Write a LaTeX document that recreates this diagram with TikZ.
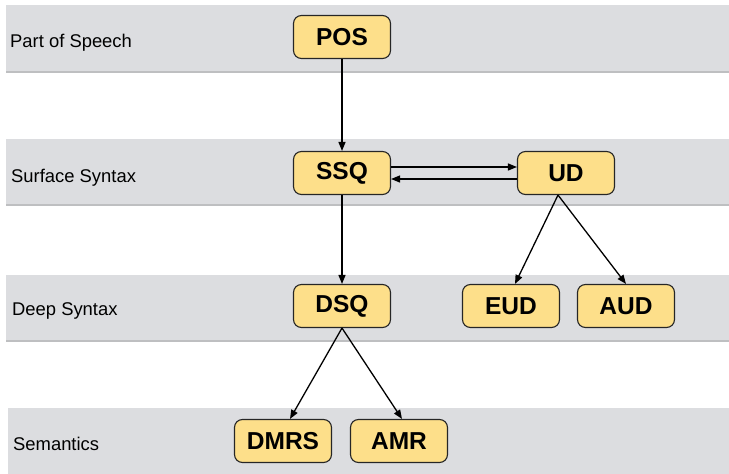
\documentclass[tikz,border=0pt]{standalone}
\usepackage{fontspec}
\setmainfont{Liberation Sans}
\usetikzlibrary{arrows.meta}

\definecolor{bandgray}{RGB}{220,221,224}
\definecolor{bandedge}{RGB}{190,191,193}
\definecolor{boxyellow}{RGB}{253,223,138}

\tikzset{
  level/.style={fill=bandgray},
  levelline/.style={draw=bandedge,line width=2pt},
  tag/.style={anchor=base west,inner sep=0pt,font=\fontsize{18.4}{20}\selectfont},
  box/.style={draw=black!85,line width=1.1pt,fill=boxyellow,rounded corners=8pt,
    minimum width=97pt,minimum height=43pt,inner sep=0pt,
    font=\fontsize{24.5}{26}\selectfont\bfseries},
  link/.style={-{Triangle[length=9pt,width=7pt]},line width=1.3pt},
}

\begin{document}
\begin{tikzpicture}[x=1pt,y=-1pt]
\useasboundingbox (0,0) rectangle (729,474);

% levels
\fill[level] (6,5) rectangle (729,71);
\draw[levelline] (6,72) -- (729,72);
\fill[level] (6,139) rectangle (729,204);
\draw[levelline] (6,205) -- (729,205);
\fill[level] (6,275) rectangle (729,340);
\draw[levelline] (6,341) -- (729,341);
\fill[level] (8,408) rectangle (729,474);

\node[tag] (lpos) at (10,47) {Part of Speech};
\node[tag] (lsurf) at (11,182) {Surface Syntax};
\node[tag] (ldeep) at (12,315) {Deep Syntax};
\node[tag] (lsem) at (13,450) {Semantics};

% representations
\node[box] (pos) at (342,37) {POS};
\node[box] (ssq) at (342,173) {SSQ};
\node[box] (ud) at (566,173) {UD};
\node[box] (dsq) at (342,306) {DSQ};
\node[box] (eud) at (511,306) {EUD};
\node[box] (aud) at (626,306) {AUD};
\node[box] (dmrs) at (283,441) {DMRS};
\node[box] (amr) at (399,441) {AMR};

\draw[link] (pos) -- (ssq);
\draw[link] ([yshift=6pt]ssq.east) -- ([yshift=6pt]ud.west);
\draw[link] ([yshift=-6pt]ud.west) -- ([yshift=-6pt]ssq.east);
\draw[link] (ssq) -- (dsq);
\draw[link] ([xshift=-8pt]ud.south) -- ([xshift=4pt]eud.north);
\draw[link] ([xshift=-8pt]ud.south) -- (aud.north);
\draw[link] (dsq.south) -- ([xshift=7pt]dmrs.north);
\draw[link] (dsq.south) -- ([xshift=3pt]amr.north);

\end{tikzpicture}
\end{document}
